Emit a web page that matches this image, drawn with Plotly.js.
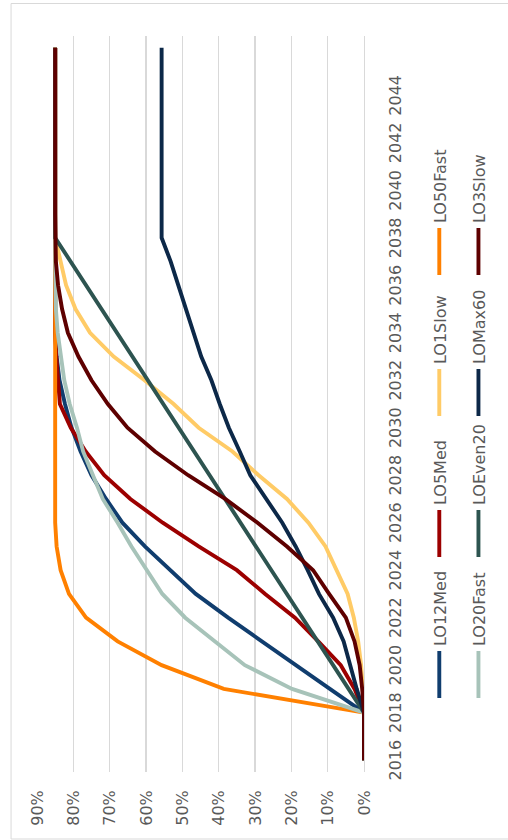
<!DOCTYPE html>
<html><head><meta charset="utf-8">
<script src="https://cdn.plot.ly/plotly-3.0.1.min.js"></script>
<style>
html,body{margin:0;padding:0;width:508px;height:840px;overflow:hidden;background:#fff;}
#chart{position:absolute;left:0;top:0;width:840px;height:508px;transform-origin:0 0;transform:translate(0px,840px) rotate(-90deg);}
</style></head><body><div id="chart"></div>
<script>
const years = [2016,2017,2018,2019,2020,2021,2022,2023,2024,2025,2026,2027,2028,2029,2030,2031,2032,2033,2034,2035,2036,2037,2038,2039,2040,2041,2042,2043,2044,2045,2046];
const tickYears = [2016,2018,2020,2022,2024,2026,2028,2030,2032,2034,2036,2038,2040,2042,2044];
const tickYearLabels = ['2016','2018','2020','2022','2024','2026','2028','2030','2032','2034','2036','2038','2040','2042','2044'];
const pctTicks = [0,10,20,30,40,50,60,70,80,90];

const LO12Med = [0,0,0,9.4,18.8,28.2,37.4,46.3,53.2,60.3,66.5,71,75,78,80.5,82.3,83.8,84.6,85,85,85,85,85,85,85,85,85,85,85,85,85];
const LO5Med  = [0,0,0,2.6,6.4,12.6,19,27.2,35,45.5,55.4,64.3,71.5,76.6,80.7,83.7,84.3,84.7,85,85,85,85,85,85,85,85,85,85,85,85,85];
const LO1Slow = [0,0,0,0.3,0.8,1.6,2.8,4.5,7.5,10.6,15.3,21.2,29,36.2,45.5,52.4,60.4,68.9,75.4,79.4,82,83.6,85,85,85,85,85,85,85,85,85];
const LO50Fast = [0,0,0,38.6,55.7,67.8,76.5,81.2,83.5,84.6,85,85,85,85,85,85,85,85,85,85,85,85,85,85,85,85,85,85,85,85,85];
const LO20Fast = [0,0,0,19.8,32.8,41,49.2,55.5,59.7,64,67.8,71.9,74.6,77.3,79,81,82.5,83.5,84.3,84.8,85,85,85,85,85,85,85,85,85,85,85];
const LOEven20 = [0,0,0,4.25,8.5,12.75,17,21.25,25.5,29.75,34,38.25,42.5,46.75,51,55.25,59.5,63.75,68,72.25,76.5,80.75,85,85,85,85,85,85,85,85,85];
const LOMax60 = [0,0,0,2,3.7,5.6,8.5,12.4,15.5,18.8,22.5,27,31.3,34.2,37.2,39.7,42,44.8,47,49,51.1,53.2,55.7,55.7,55.7,55.7,55.7,55.7,55.7,55.7,55.7];
const LO3Slow = [0,0,0,0.5,1.2,2.6,5,9.6,14,21.2,29.3,38.2,48.4,57.5,65.1,70.5,75,78.6,81.5,83.1,84.2,84.8,85,85,85,85,85,85,85,85,85];

const seriesNames = ['LO12Med','LO5Med','LO1Slow','LO50Fast','LO20Fast','LOEven20','LOMax60','LO3Slow'];
const seriesData = [LO12Med,LO5Med,LO1Slow,LO50Fast,LO20Fast,LOEven20,LOMax60,LO3Slow];
const seriesColors = ['#103d6e','#9c0000','#ffcb66','#ff8000','#a7c3b9','#2d5450','#0c2848','#5e0000'];
const seriesLegend = ['legend','legend','legend','legend','legend2','legend2','legend2','legend2'];

const W = 840, H = 508;
const m = {l:68, r:36, t:37, b:137};
const pw = W - m.l - m.r, ph = H - m.t - m.b;
const px = X => (X - m.l) / pw;
const py = Y => (H - m.b - Y) / ph;

const font = {family:'DejaVu Sans, sans-serif', size:16, color:'#595959'};

const traces = seriesNames.map((n,i)=>({
  type:'scatter', mode:'lines', name:n, x:years, y:seriesData[i],
  line:{color:seriesColors[i], width:3.9}, legend:seriesLegend[i], hoverinfo:'skip'
}));

const legendBase = {orientation:'h', xanchor:'left', yanchor:'middle', itemwidth:47, entrywidth:79, entrywidthmode:'pixels', font:font, bgcolor:'rgba(0,0,0,0)', borderwidth:0, traceorder:'normal'};

const layout = {
  width:W, height:H, margin:m, paper_bgcolor:'#fff', plot_bgcolor:'#fff', font:font,
  showlegend:true,
  xaxis:{type:'linear', range:[2015.5,2046.5], tickmode:'array', tickvals:tickYears, ticktext:tickYearLabels,
         showgrid:false, zeroline:false, showline:true, linecolor:'#d9d9d9', linewidth:1.3,
         ticks:'outside', ticklen:16, tickcolor:'rgba(0,0,0,0)', tickfont:font},
  yaxis:{range:[0,90], tickmode:'array', tickvals:pctTicks, ticktext:pctTicks.map(v=>v+'%'),
         showgrid:true, gridcolor:'#d9d9d9', gridwidth:1.3, zeroline:false, showline:false,
         ticks:'outside', ticklen:14, tickcolor:'rgba(0,0,0,0)', tickfont:font},
  legend:Object.assign({}, legendBase, {x:px(137), y:py(448)}),
  legend2:Object.assign({}, legendBase, {x:px(137), y:py(488)}),
  shapes:[{type:'rect', xref:'paper', yref:'paper', x0:px(1), x1:px(836.5), y0:py(530), y1:py(10.5),
           line:{color:'#d9d9d9', width:1}, fillcolor:'rgba(0,0,0,0)', layer:'below'}]
};

Plotly.newPlot('chart', traces, layout, {staticPlot:true, displayModeBar:false});
</script></body></html>
